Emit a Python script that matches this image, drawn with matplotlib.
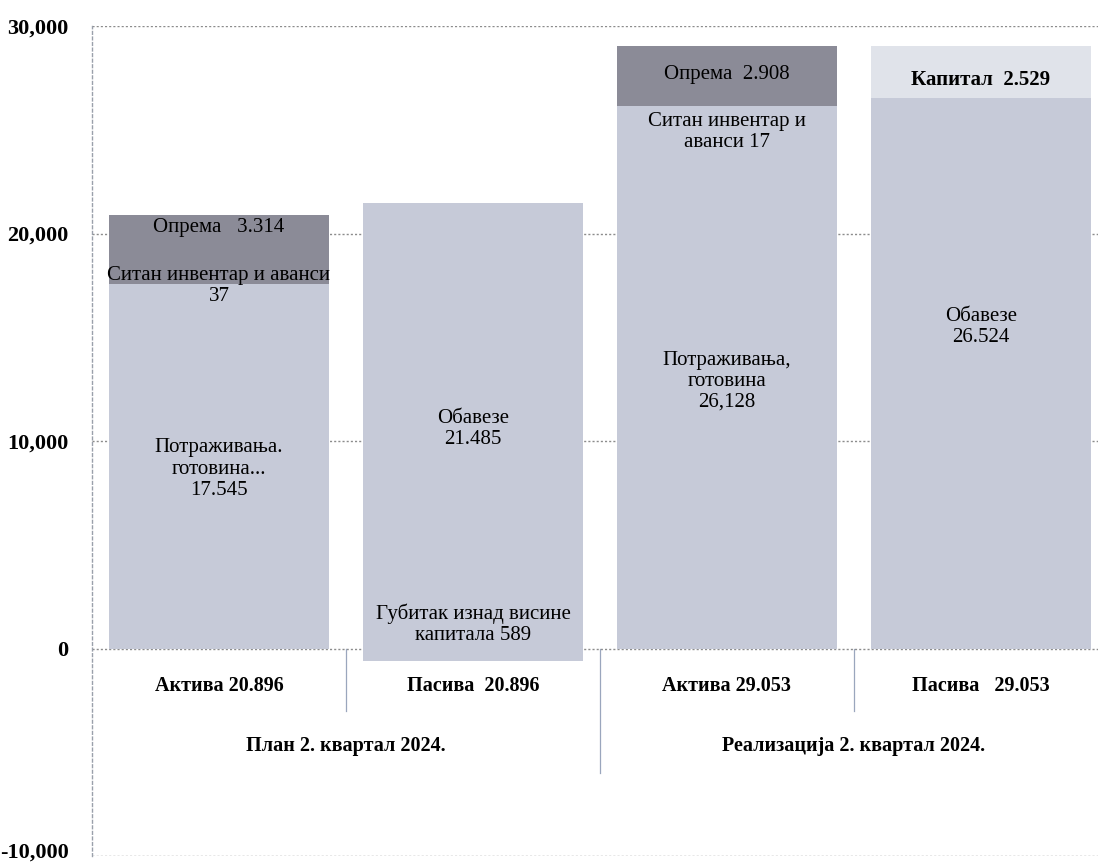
import matplotlib
matplotlib.use("Agg")
import matplotlib.pyplot as plt
import matplotlib.transforms as mtransforms

# ---- data ----
categories = ["Актива 20.896", "Пасива  20.896", "Актива 29.053", "Пасива   29.053"]
groups = ["План 2. квартал 2024.", "Реализација 2. квартал 2024."]

# stacked segments (bottom -> top); values in thousands
seg_main = [17545, 21485, 26128, 26524]     # Потраживања / Обавезе
seg_small = [37, 0, 17, 0]                   # Ситан инвентар и аванси
seg_top = [3314, 0, 2908, 2529]              # Опрема / Капитал
seg_neg = [0, -589, 0, 0]                    # Губитак изнад висине капитала

y_ticks = [-10000, 0, 10000, 20000, 30000]

# labels: (category index, y, text, bold)
labels = [
    (0, 20290, "Опрема   3.314", False),
    (0, 17450, "Ситан инвентар и аванси\n37", False),
    (0, 8650, "Потраживања.\nготовина...\n17.545", False),
    (1, 10580, "Обавезе\n21.485", False),
    (1, 1150, "Губитак изнад висине\nкапитала 589", False),
    (2, 27640, "Опрема  2.908", False),
    (2, 24900, "Ситан инвентар и\nаванси 17", False),
    (2, 12880, "Потраживања,\nготовина\n26,128", False),
    (3, 27400, "Капитал  2.529", True),
    (3, 15480, "Обавезе\n26.524", False),
]

LIGHT = "#c6cad8"
DARK = "#8b8b97"
CAP = "#e0e3ea"
top_colors = [DARK, DARK, DARK, CAP]

plt.rcParams["font.family"] = ["Liberation Serif", "DejaVu Serif"]

fig = plt.figure(figsize=(10.98, 8.64), dpi=100)
ax = fig.add_axes([92 / 1098, 8 / 864, 1016 / 1098, 830 / 864])

x = list(range(len(categories)))
w = 0.87
ax.bar(x, seg_main, width=w, color=LIGHT, zorder=2)
ax.bar(x, seg_neg, width=w, color=LIGHT, zorder=2)
ax.bar(x, seg_small, width=w, bottom=seg_main, color=LIGHT, zorder=2)
bottom3 = [a + b for a, b in zip(seg_main, seg_small)]
ax.bar(x, seg_top, width=w, bottom=bottom3, color=top_colors, zorder=2)

ax.set_xlim(-0.5, 3.5)
ax.set_ylim(-10000, 30000)
ax.set_yticks(y_ticks)
ax.set_yticklabels([f"{t:,}" for t in y_ticks], fontsize=16, fontweight="bold")
ax.tick_params(axis="y", length=0, pad=17)
ax.set_xticks([])

# keep the lowest tick label inside the figure
lowest = ax.get_yticklabels()[0]
lowest.set_transform(lowest.get_transform() +
                     mtransforms.ScaledTranslation(0, 4 / 72, fig.dpi_scale_trans))

for s in ["top", "right", "bottom"]:
    ax.spines[s].set_visible(False)
ax.spines["left"].set_linestyle((0, (2, 2)))
ax.spines["left"].set_color("#9aa0ab")
ax.spines["left"].set_linewidth(1)

for t in y_ticks:
    ax.axhline(t, color="#8c8c8c", linestyle=(0, (1.5, 1.5)), linewidth=1, zorder=1)

for ci, yv, txt, bold in labels:
    ax.text(ci, yv, txt, ha="center", va="center", fontsize=15,
            fontweight="bold" if bold else "normal", linespacing=1.15, zorder=3)

for i, c in enumerate(categories):
    ax.text(i, -1830, c, ha="center", va="center", fontsize=14.5, fontweight="bold")
for gi, g in enumerate(groups):
    ax.text(gi * 2 + 0.5, -4720, g, ha="center", va="center", fontsize=14.5, fontweight="bold")

for xd, yb in [(0.5, -3000), (1.5, -6000), (2.5, -3000)]:
    ax.plot([xd, xd], [0, yb], color="#9aa6bd", linewidth=0.9, zorder=1)

fig.savefig("out.png", dpi=100)
